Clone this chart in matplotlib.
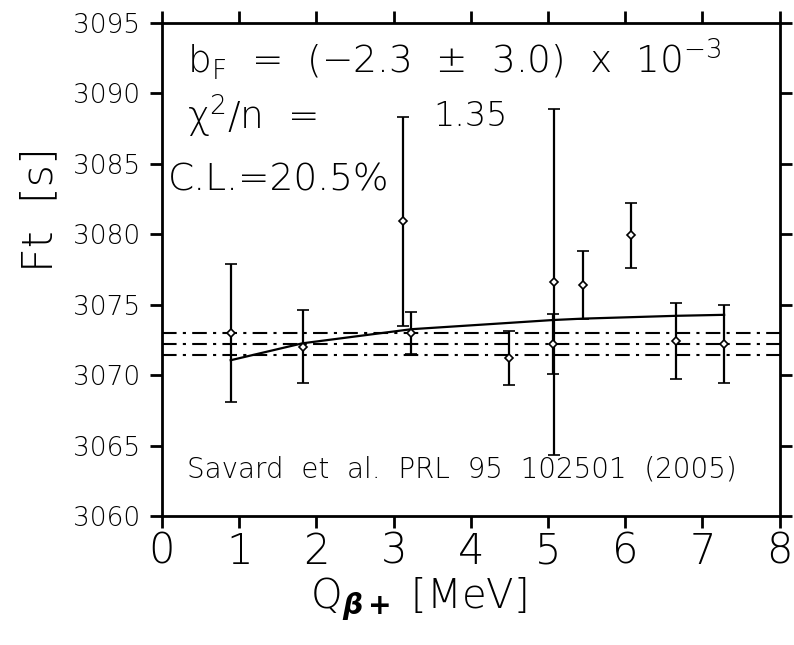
import numpy as np
import matplotlib.pyplot as plt

plt.rcParams['font.family'] = ['DejaVu Sans']
plt.rcParams['font.weight'] = 'light'
plt.rcParams['axes.labelweight'] = 'light'
plt.rcParams['mathtext.fontset'] = 'custom'
plt.rcParams['mathtext.rm'] = 'DejaVu Sans:light'
plt.rcParams['mathtext.it'] = 'DejaVu Sans:italic:light'
plt.rcParams['mathtext.bf'] = 'DejaVu Sans:italic:bold'

# data
q_val = [0.89, 1.82, 3.12, 3.23, 4.50, 5.06, 5.08, 5.45, 6.07, 6.66, 7.28]
ft_val = [3073.0, 3072.0, 3080.9, 3073.0, 3071.2, 3072.2, 3076.6, 3076.4, 3079.9, 3072.4, 3072.2]
err_up = [4.9, 2.6, 7.4, 1.5, 1.9, 2.1, 12.3, 2.4, 2.3, 2.7, 2.8]
err_dn = [4.9, 2.6, 7.4, 1.5, 1.9, 2.1, 12.3, 2.4, 2.3, 2.7, 2.8]

fit_q = [0.89, 1.82, 3.23, 4.50, 5.06, 5.45, 6.66, 7.28]
fit_ft = [3071.05, 3072.25, 3073.25, 3073.7, 3073.9, 3074.0, 3074.2, 3074.27]

band = [3073.0, 3072.2, 3071.43]

fig = plt.figure(figsize=(7.94, 6.45), dpi=100)
ax = fig.add_axes([0.204, 0.2, 0.778, 0.765])

for y in band:
    ax.axhline(y, color='black', lw=1.5, ls=(0, (7, 3, 1.5, 3)))

ax.plot(fit_q, fit_ft, color='black', lw=1.6)

ax.errorbar(q_val, ft_val, yerr=[err_dn, err_up], fmt='D', ms=4,
            mfc='white', mec='black', mew=1.2, ecolor='black',
            elinewidth=1.6, capsize=4, capthick=1.6, zorder=3)

ax.set_xlim(0, 8)
ax.set_ylim(3060, 3095)
ax.set_xticks(range(0, 9))
ax.set_yticks(range(3060, 3096, 5))
ax.tick_params(direction='out', length=8.6, width=2, top=True, right=True,
               labeltop=False, labelright=False)
ax.tick_params(axis='x', labelsize=30, pad=2)
ax.tick_params(axis='y', labelsize=19, pad=7)
for s in ax.spines.values():
    s.set_linewidth(2)

ax.set_xlabel(r'Q$_{\mathbf{\beta+}}$ [MeV]', fontsize=29)
ax.set_ylabel('Ft  [s]', fontsize=31)
# labels sit off-centre in the original
ax.xaxis.set_label_coords(0.415, -0.12)
ax.yaxis.set_label_coords(-0.165, 0.62)

ax.text(0.04, 0.925, r'b$_{\rm F}$  =  (−2.3  ±  3.0)  x  10$^{-3}$',
        transform=ax.transAxes, fontsize=27, va='center')
ax.text(0.04, 0.81, r'$\mathrm{\chi}^2$/n  =', transform=ax.transAxes,
        fontsize=27, va='center')
ax.text(0.44, 0.81, '1.35', transform=ax.transAxes, fontsize=24, va='center')
ax.text(0.01, 0.68, 'C.L.=20.5%', transform=ax.transAxes, fontsize=27, va='center')
ax.text(0.04, 0.095, 'Savard  et  al.  PRL  95  102501  (2005)',
        transform=ax.transAxes, fontsize=20, va='center')

fig.savefig('out.png', dpi=100)
